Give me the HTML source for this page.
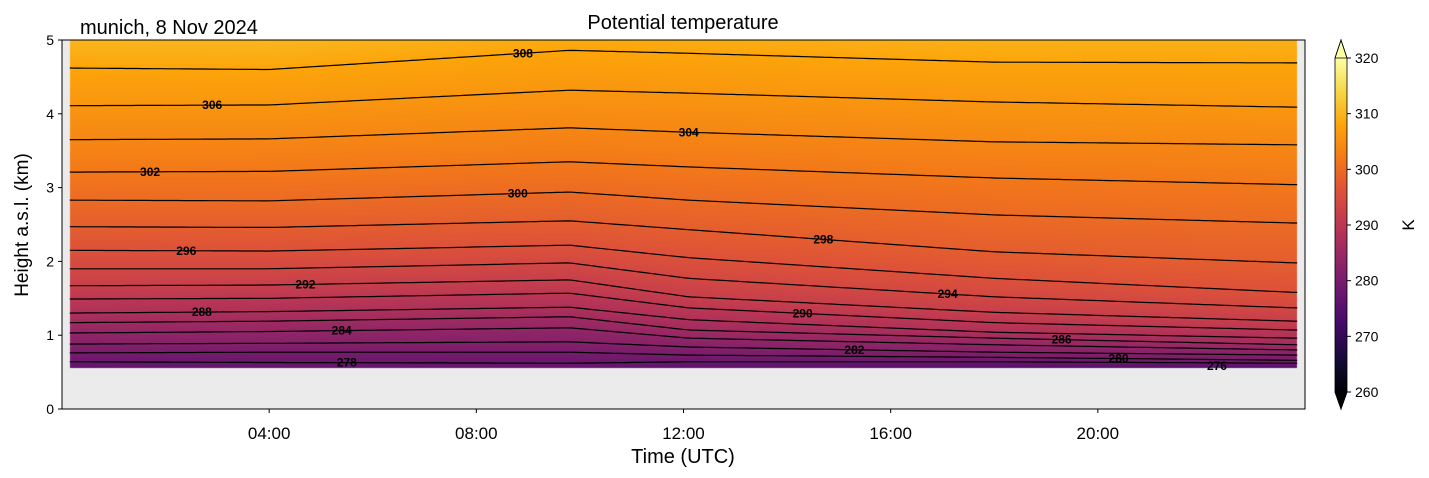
<!DOCTYPE html>
<html><head><meta charset="utf-8">
<style>
body{margin:0;background:#fff;width:1429px;height:478px;overflow:hidden;font-family:"Liberation Sans","DejaVu Sans",sans-serif;}
#wrap{position:relative;width:1429px;height:478px;}
canvas{position:absolute;}
svg{position:absolute;left:0;top:0;}
</style></head>
<body>
<div id="wrap">
<canvas id="cv" width="1243" height="369" style="left:62px;top:40px"></canvas>
<svg id="sv" width="1429" height="478"></svg>
</div>
<script>
// ---- data ----
const levels = [278,280,282,284,286,288,290,292,294,296,298,300,302,304,306,308];
const sampleTimes = [0.15, 4.0, 9.8, 12.1, 18.0, 23.8];
// heights (km) of each contour level at sampleTimes
const h278 = [0.64,0.63,0.62,0.64,0.64,0.62];
const h280 = [0.76,0.77,0.77,0.73,0.70,0.66];
const h282 = [0.88,0.89,0.91,0.84,0.77,0.73];
const h284 = [1.03,1.05,1.10,0.96,0.87,0.80];
const h286 = [1.17,1.19,1.25,1.07,0.96,0.87];
const h288 = [1.30,1.32,1.38,1.21,1.04,0.96];
const h290 = [1.49,1.50,1.57,1.37,1.17,1.07];
const h292 = [1.67,1.68,1.75,1.52,1.31,1.19];
const h294 = [1.90,1.90,1.98,1.77,1.52,1.37];
const h296 = [2.15,2.14,2.22,2.05,1.77,1.58];
const h298 = [2.47,2.46,2.55,2.43,2.13,1.98];
const h300 = [2.83,2.82,2.94,2.83,2.63,2.52];
const h302 = [3.21,3.22,3.35,3.28,3.13,3.04];
const h304 = [3.65,3.66,3.81,3.75,3.62,3.58];
const h306 = [4.11,4.12,4.32,4.28,4.16,4.09];
const h308 = [4.62,4.60,4.86,4.82,4.70,4.69];
const heights = [h278,h280,h282,h284,h286,h288,h290,h292,h294,h296,h298,h300,h302,h304,h306,h308];
const labelLevels = [308,306,304,302,300,298,296,294,292,290,288,286,284,282,280,278,276];
const labelTimes  = [8.9,2.9,12.1,1.7,8.8,14.7,2.4,17.1,4.7,14.3,2.7,19.3,5.4,15.3,20.4,5.5,22.3];
const yTicks = [0,1,2,3,4,5];
const xTicks = [4,8,12,16,20];
const xTickLabels = ["04:00","08:00","12:00","16:00","20:00"];
const cbTicks = [260,270,280,290,300,310,320];
const dataStartT = 0.15, dataEndT = 23.85, dataBottomKm = 0.55;

// ---- axes ----
const X0=62, X1=1305, Y0=409, Y1=40;
const xs = t => X0 + (X1-X0)*t/24;
const ys = z => Y0 - (Y0-Y1)*z/5;
const VMIN=260, VMAX=320, CB_X=1335, CB_W=12, CB_TOP=58, CB_BOT=392;
const cbY = v => CB_BOT - (CB_BOT-CB_TOP)*(v-VMIN)/(VMAX-VMIN);

const inferno = [[0,0,0,4],[0.1,22,11,57],[0.2,66,10,104],[0.3,106,23,110],[0.4,147,38,103],[0.5,188,55,84],[0.6,221,81,58],[0.7,243,120,25],[0.8,252,165,10],[0.9,246,215,70],[1,252,255,164]];
function cmap(v){v=Math.max(0,Math.min(1,v));for(let i=1;i<inferno.length;i++){if(v<=inferno[i][0]){const a=inferno[i-1],b=inferno[i];const f=(v-a[0])/(b[0]-a[0]);return [a[1]+(b[1]-a[1])*f,a[2]+(b[2]-a[2])*f,a[3]+(b[3]-a[3])*f];}}return inferno[inferno.length-1].slice(1);}

function interpT(arr,t){if(t<=sampleTimes[0])return arr[0];for(let i=1;i<sampleTimes.length;i++){if(t<=sampleTimes[i]){const f=(t-sampleTimes[i-1])/(sampleTimes[i]-sampleTimes[i-1]);return arr[i-1]+(arr[i]-arr[i-1])*f;}}return arr[arr.length-1];}
function heightOf(li,t){return interpT(heights[li],t);}
function thetaAt(z,t){
  const hs=heights.map((a)=>interpT(a,t));
  if(z<=hs[0]){const g=(levels[1]-levels[0])/(hs[1]-hs[0]);return levels[0]-(hs[0]-z)*g;}
  for(let i=1;i<hs.length;i++){if(z<=hs[i]){return levels[i-1]+(levels[i]-levels[i-1])*(z-hs[i-1])/(hs[i]-hs[i-1]);}}
  const n=hs.length-1;const g=(levels[n]-levels[n-1])/(hs[n]-hs[n-1])*1.3;return levels[n]+(z-hs[n])*g;
}
function heightForTheta(th,t){
  if(th<levels[0]){const h0=interpT(heights[0],t),h1=interpT(heights[1],t);return h0-(levels[0]-th)*(h1-h0)/(levels[1]-levels[0]);}
  for(let i=1;i<levels.length;i++){if(th<=levels[i]){const a=interpT(heights[i-1],t),b=interpT(heights[i],t);return a+(b-a)*(th-levels[i-1])/(levels[i]-levels[i-1]);}}
  return 5;
}

// ---- field ----
const cv=document.getElementById('cv');const ctx=cv.getContext('2d');
const W=cv.width,H=cv.height;const img=ctx.createImageData(W,H);
for(let px=0;px<W;px++){
  const x=X0+px+0.5;const t=(x-X0)/(X1-X0)*24;
  for(let py=0;py<H;py++){
    const y=Y1+py+0.5;const z=(Y0-y)/(Y0-Y1)*5;const k=(py*W+px)*4;
    let c;
    if(t<dataStartT||t>dataEndT||z<dataBottomKm){c=[235,235,235];}
    else{c=cmap((thetaAt(z,t)-VMIN)/(VMAX-VMIN));}
    img.data[k]=c[0];img.data[k+1]=c[1];img.data[k+2]=c[2];img.data[k+3]=255;
  }
}
ctx.putImageData(img,0,0);

// ---- svg ----
const NS='http://www.w3.org/2000/svg';const sv=document.getElementById('sv');
function el(tag,attrs,txt){const e=document.createElementNS(NS,tag);for(const k in attrs)e.setAttribute(k,attrs[k]);if(txt!==undefined)e.textContent=txt;sv.appendChild(e);return e;}

// contours
levels.forEach((lv,li)=>{
  let d='';let started=false;
  for(let t=dataStartT;t<=dataEndT+1e-9;t+=0.1){
    const z=heightOf(li,t);if(z<dataBottomKm){started=false;continue;}
    d+=(started?'L':'M')+xs(t).toFixed(1)+','+ys(z).toFixed(1);started=true;
  }
  const p=el('path',{d:d,fill:'none',stroke:'#000','stroke-width':1.2});
  
  
});
// contour labels
labelLevels.forEach((lv,i)=>{
  const t=labelTimes[i];const z=heightForTheta(lv,t);
  const tx=el('text',{x:xs(t),y:ys(z)+4,'text-anchor':'middle','font-size':12,'font-weight':'bold',fill:'#000'},String(lv));
  
  
});
// frame
const fr=el('rect',{x:X0,y:Y1,width:X1-X0,height:Y0-Y1,fill:'none',stroke:'#000','stroke-width':1});


// y ticks
yTicks.forEach(v=>{
  const l=el('line',{x1:X0-4,x2:X0,y1:ys(v),y2:ys(v),stroke:'#000'});
  
  
  const tx=el('text',{x:X0-8,y:ys(v)+5,'text-anchor':'end','font-size':14,fill:'#000'},String(v));
  
  
});
xTicks.forEach((v,i)=>{
  const l=el('line',{x1:xs(v),x2:xs(v),y1:Y0,y2:Y0+4,stroke:'#000'});
  
  
  const tx=el('text',{x:xs(v),y:Y0+30,'text-anchor':'middle','font-size':17,fill:'#000'},xTickLabels[i]);
  
  
});
// colorbar
const defs=el('defs',{});const lg=document.createElementNS(NS,'linearGradient');
lg.setAttribute('id','cbg');lg.setAttribute('x1','0');lg.setAttribute('y1','1');lg.setAttribute('x2','0');lg.setAttribute('y2','0');
inferno.forEach(s=>{const st=document.createElementNS(NS,'stop');st.setAttribute('offset',s[0]);st.setAttribute('stop-color','rgb('+s[1]+','+s[2]+','+s[3]+')');lg.appendChild(st);});
defs.appendChild(lg);
const cb=el('rect',{x:CB_X,y:CB_TOP,width:CB_W,height:CB_BOT-CB_TOP,fill:'url(#cbg)'});


const tri1=el('path',{d:`M${CB_X},${CB_TOP}L${CB_X+CB_W/2},40L${CB_X+CB_W},${CB_TOP}Z`,fill:'#fcffa4',stroke:'#000','stroke-width':0.8});


const tri2=el('path',{d:`M${CB_X},${CB_BOT}L${CB_X+CB_W/2},409L${CB_X+CB_W},${CB_BOT}Z`,fill:'#000004',stroke:'#000','stroke-width':0.8});


const cbo=el('path',{d:`M${CB_X},${CB_TOP}L${CB_X+CB_W/2},40L${CB_X+CB_W},${CB_TOP}L${CB_X+CB_W},${CB_BOT}L${CB_X+CB_W/2},409L${CB_X},${CB_BOT}Z`,fill:'none',stroke:'#000','stroke-width':0.8});


cbTicks.forEach(v=>{
  const l=el('line',{x1:CB_X+CB_W,x2:CB_X+CB_W+4,y1:cbY(v),y2:cbY(v),stroke:'#000'});
  
  
  const tx=el('text',{x:CB_X+CB_W+8,y:cbY(v)+5,'font-size':14,fill:'#000'},String(v));
  
  
});
const kl=el('text',{x:1414,y:225,'text-anchor':'middle','font-size':17,fill:'#000',transform:'rotate(-90 1414 225)'},'K');


// titles
const ti=el('text',{x:683,y:29,'text-anchor':'middle','font-size':20,fill:'#000'},'Potential temperature');


const lt=el('text',{x:80,y:34,'font-size':20,fill:'#000'},'munich, 8 Nov 2024');


const xl=el('text',{x:683,y:463,'text-anchor':'middle','font-size':20,fill:'#000'},'Time (UTC)');


const yl=el('text',{x:28,y:225,'text-anchor':'middle','font-size':19,fill:'#000',transform:'rotate(-90 28 225)'},'Height a.s.l. (km)');


</script>
</body></html>
